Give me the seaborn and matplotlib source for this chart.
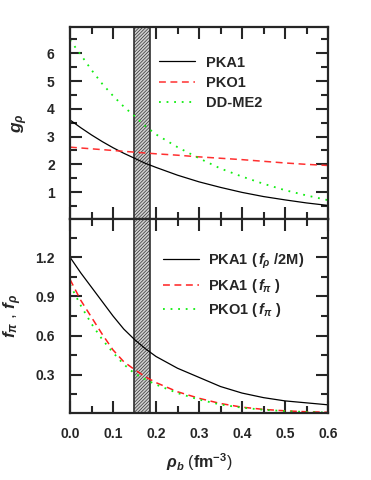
import numpy as np
import matplotlib
matplotlib.use("Agg")
import matplotlib.pyplot as plt
from matplotlib.ticker import MultipleLocator
import seaborn as sns

# density grid (fm^-3)
rho = [0.0, 0.025, 0.05, 0.075, 0.1, 0.125, 0.15, 0.175, 0.2, 0.25, 0.3, 0.35, 0.4, 0.45, 0.5, 0.55, 0.6]

# g_rho, top panel
g_pka1 = [3.6, 3.32, 3.06, 2.82, 2.6, 2.4, 2.22, 2.04, 1.89, 1.61, 1.37, 1.17, 0.99, 0.84, 0.72, 0.61, 0.52]
g_pko1 = [2.62, 2.59, 2.56, 2.53, 2.5, 2.47, 2.44, 2.41, 2.38, 2.33, 2.27, 2.22, 2.17, 2.11, 2.05, 2.0, 1.96]
g_ddme2 = [6.48, 5.95, 5.4, 4.9, 4.47, 4.08, 3.74, 3.38, 3.08, 2.62, 2.22, 1.85, 1.56, 1.3, 1.07, 0.88, 0.71]

# f_pi, f_rho, bottom panel
f_pka1_rho = [1.2, 1.08, 0.97, 0.86, 0.75, 0.65, 0.57, 0.5, 0.44, 0.35, 0.28, 0.21, 0.16, 0.125, 0.1, 0.085, 0.07]
f_pka1_pi = [1.03, 0.87, 0.74, 0.61, 0.49, 0.4, 0.34, 0.285, 0.24, 0.17, 0.12, 0.08, 0.052, 0.035, 0.024, 0.017, 0.013]
f_pko1_pi = [0.99, 0.83, 0.69, 0.57, 0.47, 0.38, 0.31, 0.265, 0.225, 0.16, 0.11, 0.072, 0.048, 0.032, 0.022, 0.015, 0.011]

band = (0.148, 0.185)

sns.set_style("ticks")
plt.rcParams['font.family'] = ['Liberation Sans', 'Noto Sans CJK SC', 'DejaVu Sans']
plt.rcParams['font.weight'] = 'bold'
plt.rcParams['mathtext.fontset'] = 'custom'
plt.rcParams['mathtext.it'] = 'Liberation Sans:italic:bold'
plt.rcParams['mathtext.rm'] = 'Liberation Sans:bold'
plt.rcParams['mathtext.bf'] = 'Liberation Sans:bold'
plt.rcParams['hatch.linewidth'] = 0.5
plt.rcParams['axes.linewidth'] = 1.6

fig = plt.figure(figsize=(3.71, 4.8), dpi=100)
ax1 = fig.add_axes([0.1887, 0.5431, 0.6954, 0.4013])
ax2 = fig.add_axes([0.1887, 0.1403, 0.6954, 0.4028], sharex=ax1)

for ax in (ax1, ax2):
    ax.axvspan(band[0], band[1], facecolor='#d0d0d0', edgecolor='#303030', hatch='//////////', lw=1.2, zorder=1)

sns.lineplot(x=rho, y=g_pka1, ax=ax1, color='k', lw=0.9, label='PKA1')
sns.lineplot(x=rho, y=g_pko1, ax=ax1, color='#ff3030', lw=1.1, linestyle=(0, (4.5, 3)), label='PKO1')
sns.lineplot(x=rho, y=g_ddme2, ax=ax1, color='#10ee10', lw=1.3, linestyle=(0, (1, 3.2)), label='DD-ME2')

sns.lineplot(x=rho, y=f_pka1_rho, ax=ax2, color='k', lw=0.9, label='PKA1 ($\\,f_\\rho$ /2M)')
sns.lineplot(x=rho, y=f_pka1_pi, ax=ax2, color='#ff2020', lw=1.1, linestyle=(0, (4.5, 3)), label='PKA1 ($\\,f_\\pi$ )')
sns.lineplot(x=rho, y=f_pko1_pi, ax=ax2, color='#10ee10', lw=1.3, linestyle=(0, (1, 3.2)), label='PKO1 ($\\,f_\\pi$ )')

ax1.set_xlim(0, 0.6)
ax1.set_ylim(0.02, 6.96)
ax2.set_ylim(0.01, 1.49)

ax1.yaxis.set_minor_locator(MultipleLocator(0.5))
ax2.yaxis.set_minor_locator(MultipleLocator(0.15))
ax2.xaxis.set_major_locator(MultipleLocator(0.1))
ax2.xaxis.set_minor_locator(MultipleLocator(0.05))
ax1.set_yticks([1, 2, 3, 4, 5, 6])
ax2.set_yticks([0.3, 0.6, 0.9, 1.2])

for ax in (ax1, ax2):
    ax.tick_params(which='both', direction='in', top=True, right=True, width=1.5, labelsize=10)
    ax.tick_params(which='major', length=8.5, pad=11)
    ax.tick_params(which='minor', length=5)
ax1.tick_params(labelbottom=False)
ax2.tick_params(axis='x', pad=10)

ax1.set_ylabel('$g_\\rho$', fontsize=12.5, labelpad=12)
ax2.set_ylabel('$f_\\pi$ , $f_\\rho$', fontsize=12.5, labelpad=8)
ax2.set_xlabel('$\\rho_b$ ($\\mathbf{fm}^{-3}$)', fontsize=11.5, labelpad=8)
ax1.set_xlabel('')

ax1.legend(loc='upper left', bbox_to_anchor=(0.345, 0.85), frameon=False, fontsize=10.5,
           handlelength=2.5, handletextpad=0.7, labelspacing=0.42, borderpad=0, borderaxespad=0)
ax2.legend(loc='upper left', bbox_to_anchor=(0.36, 0.835), frameon=False, fontsize=10.5,
           handlelength=2.5, handletextpad=0.6, labelspacing=0.42, borderpad=0, borderaxespad=0)

fig.savefig('out.png', dpi=100)
